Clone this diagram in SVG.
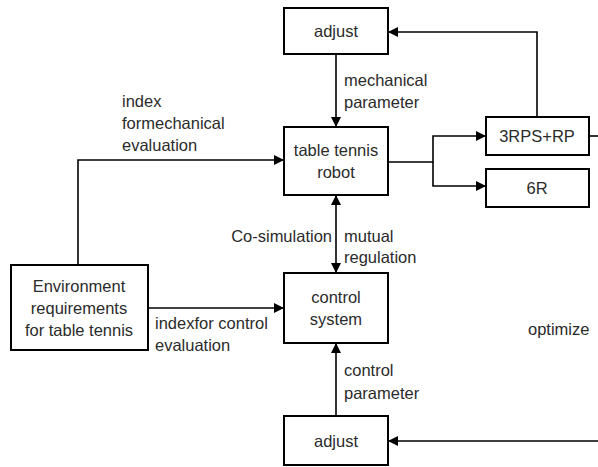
<svg xmlns="http://www.w3.org/2000/svg" width="598" height="467" viewBox="0 0 598 467">
<defs>
<marker id="ah" viewBox="0 0 10 10" refX="10" refY="5" markerWidth="10" markerHeight="10" markerUnits="userSpaceOnUse" orient="auto-start-reverse">
<path d="M0,0 L10,5 L0,10 z" fill="#000"/>
</marker>
<style>
.box{fill:#fff;stroke:#000;stroke-width:2}
.ln{fill:none;stroke:#000;stroke-width:1.6}
text{font-family:"Liberation Sans",Arial,sans-serif;font-size:16.5px;fill:#2b2b2b}
.c{text-anchor:middle}
</style>
</defs>
<rect width="598" height="467" fill="#fff"/>
<g id="connectors">
<path class="ln" d="M537,117 V32 H388" marker-end="url(#ah)"/>
<path class="ln" d="M336,54 V127" marker-end="url(#ah)"/>
<path class="ln" d="M388,162 H433 V136 H486" marker-end="url(#ah)"/>
<path class="ln" d="M433,162 V186 H486" marker-end="url(#ah)"/>
<path class="ln" d="M589,136 H600"/>
<path class="ln" d="M78,265 V160 H284" marker-end="url(#ah)"/>
<path class="ln" d="M148,308 H284" marker-end="url(#ah)"/>
<path class="ln" d="M336,195 V273" marker-start="url(#ah)" marker-end="url(#ah)"/>
<path class="ln" d="M336,416 V343" marker-end="url(#ah)"/>
<path class="ln" d="M600,441 H388" marker-end="url(#ah)"/>
<text x="122" y="107">index</text>
<text x="122" y="129">formechanical</text>
<text x="122" y="151">evaluation</text>
<text x="344" y="86">mechanical</text>
<text x="344" y="108">parameter</text>
<text x="332" y="242" text-anchor="end">Co-simulation</text>
<text x="344" y="242">mutual</text>
<text x="344" y="263">regulation</text>
<text x="155" y="329">indexfor control</text>
<text x="155" y="351">evaluation</text>
<text x="344" y="376">control</text>
<text x="344" y="399">parameter</text>
<text x="528" y="335">optimize</text>
</g>
<g id="adjust-top">
<rect class="box" x="284" y="8" width="104" height="46"/>
<text class="c" x="336" y="37">adjust</text>
</g>
<g id="robot">
<rect class="box" x="284" y="127" width="104" height="68"/>
<text class="c" x="336" y="156">table tennis</text>
<text class="c" x="336" y="178">robot</text>
</g>
<g id="rps">
<rect class="box" x="486" y="117" width="103" height="38"/>
<text class="c" x="537" y="142">3RPS+RP</text>
</g>
<g id="r6">
<rect class="box" x="486" y="169" width="103" height="38"/>
<text class="c" x="537" y="194">6R</text>
</g>
<g id="env">
<rect class="box" x="11" y="265" width="137" height="85"/>
<text class="c" x="79" y="292">Environment</text>
<text class="c" x="79" y="314">requirements</text>
<text class="c" x="79" y="336">for table tennis</text>
</g>
<g id="control">
<rect class="box" x="284" y="273" width="104" height="70"/>
<text class="c" x="336" y="303">control</text>
<text class="c" x="336" y="325">system</text>
</g>
<g id="adjust-bottom">
<rect class="box" x="284" y="416" width="104" height="49"/>
<text class="c" x="336" y="447">adjust</text>
</g>
</svg>
